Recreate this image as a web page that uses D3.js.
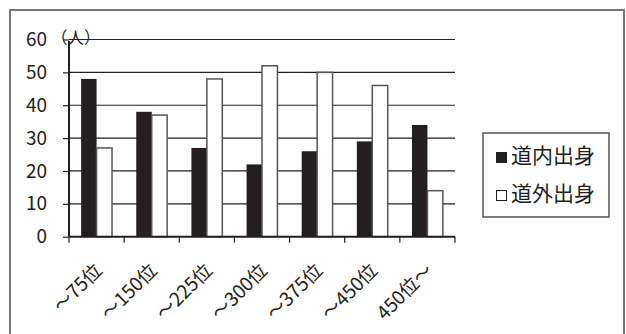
<!DOCTYPE html>
<html>
<head>
<meta charset="utf-8">
<script src="https://cdn.jsdelivr.net/npm/d3@7"></script>
<style>
  html, body { margin: 0; padding: 0; background: #fff; }
  svg { display: block; }
  text { font-family: "Noto Sans CJK JP", "Noto Sans", sans-serif; fill: #231f20; }
</style>
</head>
<body>
<svg id="chart" width="626" height="334"></svg>
<script>
// Rank bands (順位) and head counts per origin
const categories = ["～75位", "～150位", "～225位", "～300位", "～375位", "～450位", "450位～"];
const insideHokkaido = [48, 38, 27, 22, 26, 29, 34];   // 道内出身
const outsideHokkaido = [27, 37, 48, 52, 50, 46, 14];  // 道外出身
const seriesNames = ["道内出身", "道外出身"];
const yTicks = [0, 10, 20, 30, 40, 50, 60];
const yUnit = "（人）";

const svg = d3.select("#chart");
const ink = "#231f20";

// Outer frame
svg.append("rect")
  .attr("x", 10).attr("y", 10)
  .attr("width", 614).attr("height", 340)
  .attr("fill", "none").attr("stroke", "#777").attr("stroke-width", 2);

const plot = { left: 69, right: 455, top: 39.5, bottom: 236.7 };

const x = d3.scaleBand()
  .domain(categories)
  .range([plot.left, plot.right])
  .paddingInner(0.44)
  .paddingOuter(0.22);

const y = d3.scaleLinear().domain([0, 60]).range([plot.bottom, plot.top]);

// Horizontal gridlines
svg.append("g")
  .selectAll("line")
  .data(yTicks.filter(d => d > 0))
  .join("line")
  .attr("x1", plot.left).attr("x2", plot.right)
  .attr("y1", d => y(d)).attr("y2", d => y(d))
  .attr("stroke", ink).attr("stroke-width", 1.2);

// Bars
const rows = categories.map((c, i) => ({ c, v: [insideHokkaido[i], outsideHokkaido[i]] }));
const bw = x.bandwidth() / 2;
const groups = svg.append("g").selectAll("g").data(rows).join("g");
groups.append("rect")
  .attr("x", d => x(d.c))
  .attr("y", d => y(d.v[0]))
  .attr("width", bw)
  .attr("height", d => y(0) - y(d.v[0]))
  .attr("fill", ink);
groups.append("rect")
  .attr("x", d => x(d.c) + bw)
  .attr("y", d => y(d.v[1]))
  .attr("width", bw)
  .attr("height", d => y(0) - y(d.v[1]))
  .attr("fill", "#fff")
  .attr("stroke", "#555").attr("stroke-width", 1.5);

// Y axis
const yAxis = svg.append("g")
  .attr("transform", `translate(${plot.left},0)`)
  .call(d3.axisLeft(y).tickValues(yTicks).tickSize(6).tickPadding(16));
yAxis.select(".domain").attr("stroke", ink).attr("stroke-width", 2)
  .attr("d", `M0,${plot.top + 1.5}V${plot.bottom}`);
yAxis.selectAll(".tick line").attr("stroke", ink).attr("stroke-width", 1.2);
yAxis.selectAll(".tick text")
  .attr("font-size", 19).attr("fill", ink)
  .attr("font-family", "\"Noto Sans CJK JP\", sans-serif");

// Unit label
svg.append("text")
  .attr("x", 51).attr("y", 44)
  .attr("font-size", 16.5)
  .text(yUnit);

// X axis
const edges = categories.map(c => x(c) - x.step() * x.paddingInner() / 2).concat([plot.right]);
const xAxis = svg.append("g").attr("transform", `translate(0,${plot.bottom})`);
xAxis.append("line")
  .attr("x1", plot.left).attr("x2", plot.right)
  .attr("stroke", ink).attr("stroke-width", 2);
xAxis.selectAll("line.tick").data(edges).join("line").attr("class", "tick")
  .attr("x1", d => d).attr("x2", d => d)
  .attr("y1", 0).attr("y2", 6)
  .attr("stroke", ink).attr("stroke-width", 1.2);
xAxis.selectAll("text").data(categories).join("text")
  .attr("text-anchor", "end")
  .attr("font-size", 19)
  .attr("transform", d => `translate(${x(d) + x.bandwidth() / 2 + 6.5},${35}) rotate(-45)`)
  .text(d => d);

// Legend
const lg = svg.append("g");
lg.append("rect")
  .attr("x", 483).attr("y", 133).attr("width", 126).attr("height", 84)
  .attr("fill", "#fff").attr("stroke", "#555").attr("stroke-width", 1.5);
const items = lg.selectAll("g").data(seriesNames).join("g")
  .attr("transform", (d, i) => `translate(496,${i * 38 + 163})`);
items.append("rect")
  .attr("x", 0.5).attr("y", -10.5).attr("width", 10).attr("height", 10)
  .attr("fill", (d, i) => i === 0 ? ink : "#fff")
  .attr("stroke", ink).attr("stroke-width", 1);
items.append("text")
  .attr("x", 15).attr("y", 0)
  .attr("font-size", 21)
  .text(d => d);
</script>
</body>
</html>
